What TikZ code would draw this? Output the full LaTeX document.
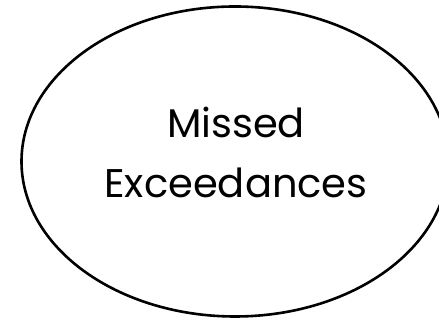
\documentclass[tikz,border=0pt]{standalone}
\usepackage{fontspec}
\setmainfont{Poppins}
\usetikzlibrary{shapes.geometric}
\begin{document}
\begin{tikzpicture}[x=1pt,y=1pt,
  bubble/.style={draw=black,line width=2.6pt,ellipse,minimum width=427pt,minimum height=310pt,inner sep=0pt},
  label/.style={font=\fontsize{40}{60}\selectfont,align=center}]
\useasboundingbox (0,0) rectangle (439,320);
\clip (0,0) rectangle (439,320);
\node[bubble] (e) at (235,158.5) {};
\node[label] (t) at (236,168) {Missed\\Exceedances};
\end{tikzpicture}
\end{document}
